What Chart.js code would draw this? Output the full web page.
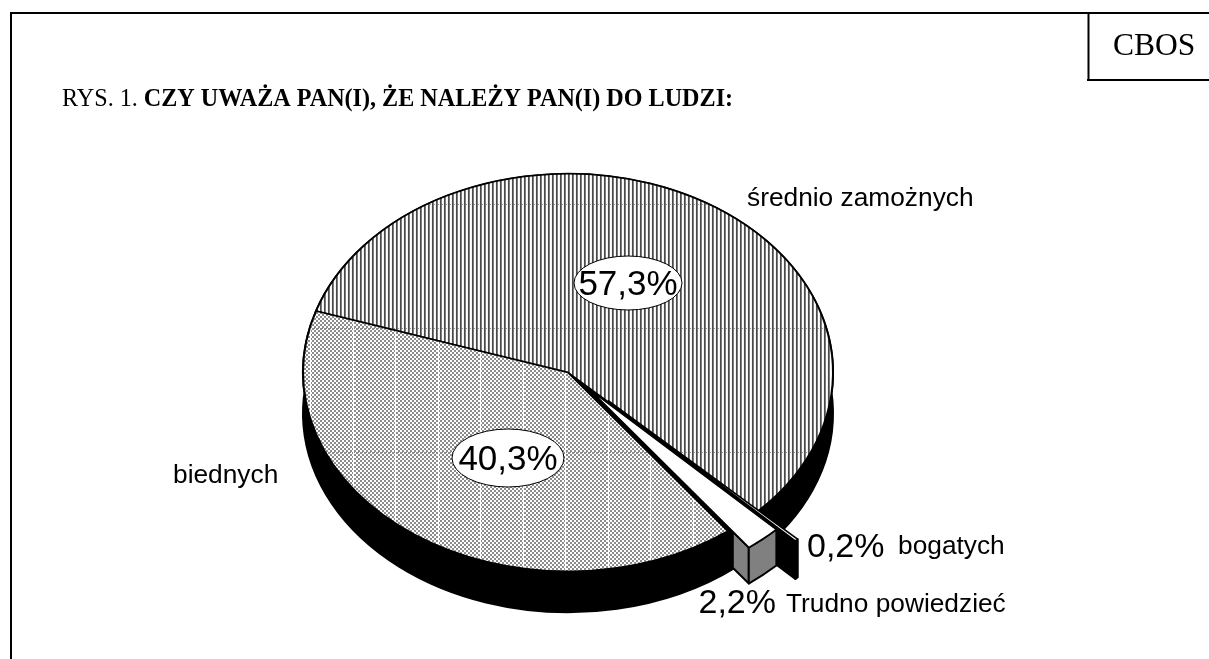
<!DOCTYPE html>
<html lang="pl">
<head>
<meta charset="utf-8">
<title>CBOS RYS. 1</title>
<style>
    html, body { margin: 0; padding: 0; background: #fff; overflow: hidden; }
    canvas { display: block; }
</style>
<script src="https://cdn.jsdelivr.net/npm/chart.js@4"></script>
</head>
<body>
<canvas id="pieChart" width="1209" height="659"></canvas>
<script>
    // Data
    const categories = ['średnio zamożnych', 'bogatych', 'Trudno powiedzieć', 'biednych'];
    const shares = [57.3, 0.2, 2.2, 40.3];

    const titlePrefix = 'RYS. 1. ';
    const titleBold = 'CZY UWAŻA PAN(I), ŻE NALEŻY PAN(I) DO LUDZI:';
    const sourceLabel = 'CBOS';

    // Pie geometry and look
    const centerX = 568;
    const centerY = 372.5;
    const pieRadius = 265;
    const tilt = 0.75;
    const wallDepths = [41, 38, 36, 41];
    const pullX = [0, 40, 21, 0]; // how far each slice is pulled out, screen px
    const pullY = [0, 28, 16.5, 0];
    const wallColors = ['#000', '#000', '#808080', '#000'];
    const faceFrom = [0, 0, 0.9, null];
    const wallOrder = [3, 0, 1, 2];
    const wallOverlap = [0, 0, 0, 0.04];

    const sans = '"Liberation Sans", Arial, sans-serif';
    const serif = '"Liberation Serif", "Times New Roman", serif';

    const percent = v => v.toFixed(1).replace('.', ',') + '%';

    // Tiles are drawn pixel by pixel, then pinned to device space so the tilt does not squash them
    function makeTile(w, h, paint) {
        const tile = document.createElement('canvas');
        tile.width = w;
        tile.height = h;
        const g = tile.getContext('2d');
        for (let x = 0; x < w; x++) {
            for (let y = 0; y < h; y++) {
                g.fillStyle = paint(x, y);
                g.fillRect(x, y, 1, 1);
            }
        }
        const pattern = g.createPattern(tile, 'repeat');
        pattern.setTransform(new DOMMatrix()
            .translate(centerX, centerY).scale(1, 1 / tilt).translate(-centerX, -centerY));
        return pattern;
    }

    const stripeFill = makeTile(84, 124, (x, y) => {
        const shade = ['#4a4a4a', '#7a7a7a', '#ffffff', '#f2f2f2'][x % 4];
        if (y === 80 && x % 4 > 1 && x % 2 === 0) return '#9a9a9a';
        return shade;
    });
    const checkFill = makeTile(340, 124, (x, y) => {
        if (x % 85 === 13 || x % 85 === 55) return '#ffffff';
        if (y === 80 && x % 2 === 0) return '#8a8a8a';
        return (Math.floor(x / 2) + Math.floor(y / 2)) % 2 === 0 ? '#8c8c8c' : '#ffffff';
    });
    const sliceFills = [stripeFill, '#ffffff', '#ffffff', checkFill];

    function shape(ctx, fill, stroke, lineWidth, build) {
        ctx.beginPath();
        build();
        ctx.closePath();
        ctx.fillStyle = fill;
        ctx.fill();
        ctx.strokeStyle = stroke;
        ctx.lineWidth = lineWidth;
        ctx.stroke();
    }

    // Extruded rim and the cut faces of pulled-out slices, taken from the library's arc elements
    const pieWalls = {
        id: 'pieWalls',
        beforeDatasetsDraw(chart) {
            const ctx = chart.ctx;
            const arcs = chart.getDatasetMeta(0).data;
            ctx.save();
            ctx.lineJoin = 'round';
            wallOrder.forEach(i => {
                const arc = arcs[i];
                const { startAngle, endAngle, outerRadius } = arc;
                const depth = wallDepths[i];
                const ox = centerX + pullX[i];
                const oy = centerY + pullY[i];
                // the element draws at its own x / y, which sit in the tilted space
                arc.x = ox;
                arc.y = centerY + pullY[i] / tilt;

                const ry = outerRadius * tilt;
                if (faceFrom[i] !== null) {
                    const t = faceFrom[i] * outerRadius;
                    const ax = ox + t * Math.cos(endAngle), ay = oy + t * tilt * Math.sin(endAngle);
                    const bx = ox + outerRadius * Math.cos(endAngle), by = oy + ry * Math.sin(endAngle);
                    shape(ctx, wallColors[i], '#000', 2, () => {
                        ctx.moveTo(ax, ay);
                        ctx.lineTo(bx, by);
                        ctx.lineTo(bx, by + depth);
                        ctx.lineTo(ax, ay + depth);
                    });
                }
                shape(ctx, wallColors[i], '#000', 2, () => {
                    ctx.ellipse(ox, oy, outerRadius, ry, 0, startAngle - wallOverlap[i], endAngle);
                    ctx.ellipse(ox, oy + depth, outerRadius, ry, 0, endAngle, startAngle - wallOverlap[i], true);
                });
            });
            ctx.restore();

            // the library then paints the slice tops through this tilt
            ctx.save();
            ctx.translate(centerX, centerY);
            ctx.scale(1, tilt);
            ctx.translate(-centerX, -centerY);
        },
        afterDatasetsDraw(chart) {
            chart.ctx.restore();
        }
    };

    function text(ctx, str, x, y, font, align) {
        ctx.font = font;
        ctx.textAlign = align || 'left';
        ctx.fillStyle = '#000';
        ctx.fillText(str, x, y);
    }

    function bubble(ctx, str, x, y, rx, ry) {
        ctx.beginPath();
        ctx.ellipse(x, y, rx, ry, 0, 0, Math.PI * 2);
        ctx.fillStyle = '#fff';
        ctx.fill();
        ctx.strokeStyle = '#000';
        ctx.lineWidth = 1;
        ctx.stroke();
        text(ctx, str, x, y + 12, '35px ' + sans, 'center');
    }

    // Frame, title and all labels
    const annotations = {
        id: 'annotations',
        afterDraw(chart) {
            const ctx = chart.ctx;
            ctx.save();
            ctx.strokeStyle = '#000';
            ctx.lineWidth = 2;
            ctx.beginPath();
            ctx.moveTo(11, 659);
            ctx.lineTo(11, 13);
            ctx.lineTo(1209, 13);
            ctx.moveTo(1088.5, 13);
            ctx.lineTo(1088.5, 80);
            ctx.moveTo(1087, 80);
            ctx.lineTo(1209, 80);
            ctx.stroke();

            text(ctx, sourceLabel, 1113, 55, '31.5px ' + serif);
            text(ctx, titlePrefix, 62, 106, '24.15px ' + serif);
            const prefixWidth = ctx.measureText(titlePrefix).width;
            text(ctx, titleBold, 62 + prefixWidth, 106, 'bold 24.15px ' + serif);

            bubble(ctx, percent(shares[0]), 628, 283, 54, 27);
            bubble(ctx, percent(shares[3]), 508, 458, 56, 29);

            text(ctx, categories[0], 747, 206, '26.3px ' + sans);
            text(ctx, categories[3], 173, 483, '26.3px ' + sans);
            text(ctx, percent(shares[1]), 807, 557, '34px ' + sans);
            text(ctx, categories[1], 898, 554, '26.3px ' + sans);
            text(ctx, percent(shares[2]), 776, 613, '34px ' + sans, 'right');
            text(ctx, categories[2], 786, 612, '26.3px ' + sans);
            ctx.restore();
        }
    };

    new Chart(document.getElementById('pieChart').getContext('2d'), {
        type: 'pie',
        data: {
            labels: categories,
            datasets: [{
                data: shares,
                backgroundColor: sliceFills,
                borderColor: '#000',
                borderWidth: 2,
                hoverOffset: 0,
                clip: false
            }]
        },
        options: {
            responsive: false,
            animation: false,
            rotation: 288,
            radius: pieRadius,
            // centres the pie on centerX / centerY inside the 1209x659 canvas
            layout: { padding: { left: 0, right: 1209 - 2 * centerX, top: 2 * centerY - 659, bottom: 0 } },
            plugins: { legend: { display: false }, tooltip: { enabled: false }, title: { display: false } }
        },
        plugins: [pieWalls, annotations]
    });
</script>
</body>
</html>
